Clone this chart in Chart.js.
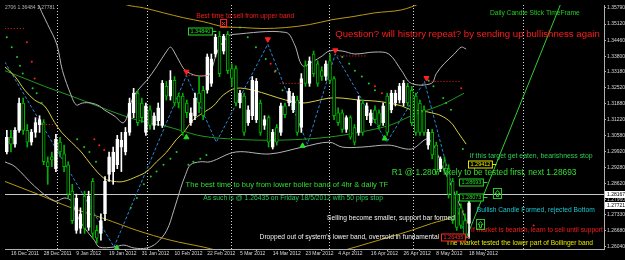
<!DOCTYPE html>
<html><head><meta charset="utf-8"><title>EURUSD Daily</title>
<script src="https://cdn.jsdelivr.net/npm/chart.js@4.4.1/dist/chart.umd.min.js"></script>
<style>html,body{margin:0;padding:0;background:#000;overflow:hidden}canvas{display:block}</style>
</head><body>
<canvas id="chart" width="625" height="260"></canvas>
<script>
// ---------- DATA ----------
const FIRST_BAR = -1; // bar index of first candle (16 Dec 2011 = 0)
const openPrices = [1.2990,1.3050,1.3022,1.3078,1.3190,1.3078,1.3030,1.3070,1.3102,1.3110,1.2950,1.2970,1.2922,1.3030,1.2982,1.2938,1.2830,1.2670,1.2678,1.2810,1.2682,1.2870,1.2670,1.2658,1.2738,1.2898,1.2910,1.2938,1.3010,1.2990,1.3070,1.3150,1.3230,1.3190,1.3070,1.3162,1.3098,1.3118,1.3098,1.3258,1.3218,1.3282,1.3218,1.3218,1.3190,1.3110,1.3138,1.3230,1.3242,1.3242,1.3270,1.3390,1.3462,1.3402,1.3470,1.3330,1.3330,1.3190,1.3218,1.3110,1.3138,1.3122,1.3190,1.3098,1.3130,1.3010,1.3090,1.3070,1.3178,1.3190,1.3162,1.3202,1.3090,1.3342,1.3270,1.3390,1.3350,1.3322,1.3298,1.3362,1.3290,1.3150,1.3150,1.3082,1.3130,1.3090,1.3070,1.3190,1.3138,1.3110,1.3162,1.3150,1.3110,1.3218,1.3162,1.3190,1.3202,1.3190,1.3258,1.3242,1.3218,1.3190,1.3162,1.3018,1.3070,1.3018,1.2922,1.2950,1.2922,1.2870,1.2818,1.2762,1.2710,1.2698];
const highPrices = [1.3078,1.3078,1.3090,1.3210,1.3210,1.3102,1.3082,1.3130,1.3138,1.3122,1.2970,1.2990,1.3062,1.3050,1.3018,1.2950,1.2858,1.2818,1.2762,1.2830,1.2830,1.2882,1.2690,1.2738,1.2890,1.2990,1.3010,1.3058,1.3070,1.3090,1.3210,1.3250,1.3242,1.3210,1.3190,1.3178,1.3150,1.3190,1.3282,1.3278,1.3322,1.3298,1.3230,1.3230,1.3202,1.3170,1.3230,1.3298,1.3258,1.3390,1.3390,1.3470,1.3482,1.3470,1.3482,1.3350,1.3342,1.3242,1.3230,1.3178,1.3298,1.3290,1.3202,1.3138,1.3138,1.3082,1.3102,1.3190,1.3190,1.3250,1.3230,1.3218,1.3310,1.3362,1.3378,1.3402,1.3362,1.3338,1.3362,1.3390,1.3298,1.3170,1.3162,1.3138,1.3138,1.3102,1.3218,1.3202,1.3190,1.3162,1.3178,1.3162,1.3190,1.3230,1.3242,1.3242,1.3270,1.3282,1.3270,1.3258,1.3230,1.3202,1.3178,1.3082,1.3082,1.3030,1.2970,1.2970,1.2938,1.2882,1.2830,1.2778,1.2738,1.2790];
const lowPrices = [1.2982,1.2990,1.3010,1.3070,1.3062,1.3010,1.3018,1.3050,1.3070,1.2938,1.2858,1.2930,1.2910,1.2970,1.2910,1.2802,1.2698,1.2658,1.2658,1.2658,1.2670,1.2638,1.2618,1.2630,1.2710,1.2870,1.2858,1.2922,1.2910,1.2978,1.3058,1.3130,1.3098,1.3110,1.3058,1.3082,1.3082,1.3098,1.3090,1.3202,1.3202,1.3178,1.3170,1.3058,1.3130,1.3098,1.3122,1.3150,1.3122,1.3230,1.3258,1.3378,1.3298,1.3390,1.3310,1.3258,1.3178,1.3170,1.3058,1.3098,1.3122,1.3110,1.3058,1.3082,1.3010,1.3002,1.3018,1.3058,1.3130,1.3178,1.3150,1.3058,1.3070,1.3258,1.3258,1.3298,1.3258,1.3282,1.3282,1.3270,1.3122,1.3098,1.3070,1.3070,1.3042,1.3018,1.3058,1.3058,1.3122,1.3098,1.3110,1.3082,1.3098,1.3058,1.3150,1.3178,1.3190,1.3178,1.3178,1.3098,1.3058,1.3058,1.3058,1.3002,1.2962,1.2898,1.2910,1.2910,1.2802,1.2698,1.2670,1.2678,1.2638,1.2638];
const closePrices = [1.3050,1.3022,1.3078,1.3190,1.3078,1.3030,1.3070,1.3110,1.3122,1.2950,1.2930,1.2958,1.3042,1.2990,1.2930,1.2818,1.2710,1.2802,1.2738,1.2678,1.2810,1.2658,1.2638,1.2710,1.2870,1.2970,1.2990,1.3042,1.3038,1.3070,1.3190,1.3230,1.3110,1.3130,1.3178,1.3098,1.3138,1.3170,1.3270,1.3218,1.3282,1.3190,1.3190,1.3070,1.3150,1.3150,1.3210,1.3190,1.3138,1.3378,1.3370,1.3458,1.3310,1.3462,1.3322,1.3290,1.3190,1.3230,1.3070,1.3162,1.3282,1.3278,1.3070,1.3122,1.3030,1.3070,1.3030,1.3178,1.3142,1.3238,1.3218,1.3070,1.3290,1.3270,1.3362,1.3310,1.3270,1.3298,1.3350,1.3282,1.3138,1.3110,1.3082,1.3130,1.3050,1.3030,1.3202,1.3070,1.3178,1.3150,1.3122,1.3098,1.3178,1.3070,1.3230,1.3230,1.3258,1.3270,1.3190,1.3110,1.3070,1.3070,1.3070,1.3070,1.2978,1.2910,1.2962,1.2922,1.2818,1.2710,1.2682,1.2690,1.2650,1.2782];

const dateTickBars = [0,8,16,24,32,40,48,56,64,72,80,88,96,104,112];
const dateTickLabels = ['16 Dec 2011','28 Dec 2011','9 Jan 2012','19 Jan 2012','31 Jan 2012','10 Feb 2012','22 Feb 2012','5 Mar 2012','14 Mar 2012','23 Mar 2012','4 Apr 2012','16 Apr 2012','26 Apr 2012','8 May 2012','18 May 2012'];
const priceTickValues = [1.3579,1.3512,1.3446,1.3380,1.3318,1.3252,1.3188,1.3122,1.3058,1.2992,1.2928,1.2862,1.2796,1.2733,1.2668,1.2604];

const upperBand = [{x:5.3,y:1.3650},{x:7.0,y:1.3582},{x:7.5,y:1.3562},{x:9.0,y:1.3510},{x:11.2,y:1.3430},{x:12.6,y:1.3322},{x:14.8,y:1.3218},{x:16.0,y:1.3182},{x:17.5,y:1.3190},{x:19.6,y:1.3190},{x:21.6,y:1.3178},{x:22.8,y:1.3162},{x:25.2,y:1.3138},{x:27.6,y:1.3110},{x:29.6,y:1.3202},{x:30.8,y:1.3238},{x:33.2,y:1.3282},{x:35.6,y:1.3338},{x:38.1,y:1.3402},{x:39.0,y:1.3418},{x:39.8,y:1.3402},{x:41.5,y:1.3350},{x:42.7,y:1.3322},{x:45.3,y:1.3302},{x:47.8,y:1.3302},{x:48.7,y:1.3310},{x:50.7,y:1.3410},{x:53.1,y:1.3462},{x:54.3,y:1.3470},{x:67.2,y:1.3478},{x:69.3,y:1.3430},{x:71.3,y:1.3342},{x:73.7,y:1.3358},{x:76.1,y:1.3382},{x:77.8,y:1.3402},{x:81.0,y:1.3402},{x:84.1,y:1.3390},{x:89.0,y:1.3398},{x:92.4,y:1.3390},{x:95.5,y:1.3322},{x:97.9,y:1.3270},{x:102.8,y:1.3270},{x:104.0,y:1.3310},{x:105.9,y:1.3350},{x:108.4,y:1.3390},{x:110.1,y:1.3418},{x:111.3,y:1.3410}];
const lowerBand = [{x:-1.5,y:1.2950},{x:1.0,y:1.2930},{x:5.8,y:1.2850},{x:10.7,y:1.2790},{x:13.1,y:1.2802},{x:14.8,y:1.2790},{x:16.0,y:1.2738},{x:17.9,y:1.2682},{x:20.4,y:1.2630},{x:21.6,y:1.2602},{x:25.2,y:1.2602},{x:27.6,y:1.2610},{x:30.1,y:1.2598},{x:33.2,y:1.2598},{x:35.6,y:1.2618},{x:38.1,y:1.2670},{x:39.8,y:1.2750},{x:41.5,y:1.2842},{x:42.7,y:1.2898},{x:43.9,y:1.2938},{x:46.3,y:1.2950},{x:48.7,y:1.2950},{x:55.0,y:1.2990},{x:63.3,y:1.2982},{x:71.3,y:1.3010},{x:77.8,y:1.3030},{x:81.0,y:1.3010},{x:85.8,y:1.3010},{x:92.4,y:1.3018},{x:97.9,y:1.3002},{x:102.1,y:1.3042},{x:105.7,y:1.2922},{x:108.8,y:1.2810},{x:111.3,y:1.2710}];
const middleBand = [{x:-1.5,y:1.3338},{x:1.0,y:1.3298},{x:3.4,y:1.3242},{x:5.8,y:1.3202},{x:8.2,y:1.3178},{x:10.7,y:1.3110},{x:12.4,y:1.3070},{x:14.8,y:1.3030},{x:17.2,y:1.2990},{x:19.6,y:1.2938},{x:22.8,y:1.2882},{x:25.2,y:1.2870},{x:27.6,y:1.2870},{x:30.8,y:1.2890},{x:33.2,y:1.2910},{x:35.6,y:1.2950},{x:38.1,y:1.2990},{x:40.5,y:1.3042},{x:42.2,y:1.3070},{x:44.6,y:1.3122},{x:47.0,y:1.3150},{x:49.5,y:1.3178},{x:51.9,y:1.3222},{x:55.0,y:1.3250},{x:59.2,y:1.3242},{x:63.3,y:1.3222},{x:67.2,y:1.3202},{x:71.3,y:1.3190},{x:74.4,y:1.3198},{x:77.8,y:1.3210},{x:81.0,y:1.3210},{x:85.1,y:1.3202},{x:89.0,y:1.3198},{x:92.4,y:1.3190},{x:95.5,y:1.3178},{x:97.9,y:1.3162},{x:100.4,y:1.3158},{x:102.8,y:1.3150},{x:105.2,y:1.3138},{x:107.6,y:1.3110},{x:109.3,y:1.3070},{x:111.3,y:1.3022}];
const outerUpper = [{x:22.8,y:1.3622},{x:28.4,y:1.3590},{x:32.5,y:1.3578},{x:37.3,y:1.3558},{x:42.2,y:1.3538},{x:47.0,y:1.3522},{x:51.9,y:1.3502},{x:56.7,y:1.3498},{x:61.6,y:1.3494},{x:67.2,y:1.3498},{x:73.0,y:1.3510},{x:78.5,y:1.3530},{x:83.4,y:1.3542},{x:89.0,y:1.3558},{x:95.5,y:1.3570},{x:100.4,y:1.3598}];
const outerLower = [{x:-1.5,y:1.2870},{x:6.5,y:1.2818},{x:14.8,y:1.2762},{x:22.8,y:1.2718},{x:30.8,y:1.2670},{x:39.0,y:1.2630},{x:47.0,y:1.2602},{x:54.3,y:1.2574},{x:66.4,y:1.2550},{x:76.1,y:1.2566},{x:81.7,y:1.2590},{x:87.5,y:1.2618},{x:92.4,y:1.2642},{x:97.9,y:1.2670},{x:102.8,y:1.2698},{x:107.6,y:1.2722},{x:110.8,y:1.2750}];
const slowAverage = [{x:-1.5,y:1.3322},{x:3.4,y:1.3290},{x:8.2,y:1.3258},{x:14.8,y:1.3218},{x:21.1,y:1.3178},{x:27.6,y:1.3138},{x:33.2,y:1.3110},{x:37.3,y:1.3098},{x:41.5,y:1.3078},{x:47.0,y:1.3054},{x:55.0,y:1.3042},{x:63.3,y:1.3038},{x:71.3,y:1.3042},{x:79.3,y:1.3054},{x:87.5,y:1.3078},{x:93.1,y:1.3102},{x:97.9,y:1.3138},{x:105.2,y:1.3182},{x:110.8,y:1.3230}];
const zigzagPoints = [{x:-1.5,y:1.3358},{x:25.2,y:1.2602},{x:42.9,y:1.3302},{x:50.2,y:1.3030},{x:62.8,y:1.3430},{x:72.5,y:1.3022},{x:79.3,y:1.3390},{x:91.9,y:1.3030},{x:101.1,y:1.3278},{x:111.3,y:1.2630}];
const trendLine = [{x:111.3,y:1.2638},{x:134.3,y:1.3590}];
const swingHighs = [{x:42.9,y:1.3318},{x:62.8,y:1.3450},{x:79.3,y:1.3405},{x:101.6,y:1.3292}];
const swingLows = [{x:25.9,y:1.2598},{x:42.9,y:1.3050},{x:71.3,y:1.3015},{x:91.4,y:1.3045}];
const resistanceLevels = [{from:-1.5,to:3.4,price:1.3494},{from:7.8,to:11.4,price:1.3102},{from:42.7,to:48.2,price:1.3302},{from:65.7,to:71.3,price:1.3270},{from:79.8,to:87.0,price:1.3382},{from:102.1,to:110.1,price:1.3278}];
const sarGreen = [{x:-1.0,y:1.3458},{x:0.2,y:1.3418},{x:1.5,y:1.3378},{x:2.2,y:1.3342},{x:2.9,y:1.3310},{x:5.3,y:1.3250},{x:6.3,y:1.3230},{x:7.5,y:1.3190},{x:16.2,y:1.3042},{x:17.9,y:1.3010},{x:19.2,y:1.2990},{x:20.8,y:1.2950},{x:29.3,y:1.2762},{x:30.8,y:1.2802},{x:32.5,y:1.2858},{x:34.2,y:1.2890},{x:35.6,y:1.2910},{x:37.3,y:1.2938},{x:39.0,y:1.2962},{x:40.5,y:1.2990},{x:43.4,y:1.2938},{x:44.6,y:1.2950},{x:46.3,y:1.2962},{x:47.8,y:1.2978},{x:56.0,y:1.3498},{x:57.9,y:1.3458},{x:59.9,y:1.3418},{x:62.3,y:1.3370},{x:64.7,y:1.3322},{x:66.4,y:1.3242},{x:81.0,y:1.3378},{x:82.7,y:1.3350},{x:84.1,y:1.3322},{x:85.8,y:1.3298},{x:87.5,y:1.3270},{x:89.0,y:1.3242},{x:102.1,y:1.3282},{x:103.3,y:1.3258},{x:105.7,y:1.3210},{x:106.4,y:1.3190},{x:107.6,y:1.3162},{x:110.5,y:1.3002}];
const sarRed = [{x:3.9,y:1.3438},{x:5.1,y:1.3358},{x:5.8,y:1.3290},{x:20.4,y:1.3042},{x:21.6,y:1.3018},{x:22.8,y:1.2998},{x:63.5,y:1.3350},{x:64.5,y:1.3318},{x:89.0,y:1.3258},{x:90.7,y:1.3230},{x:110.1,y:1.3250},{x:127.8,y:1.2690}];
const monthSeparators = [11.15, 33.2, 53.8, 77.8, 98.4, 125.3];
const bidPrice = 1.28167;
const askPrice = 1.27721;

const notes = [
  {text:'2706 1.36484 1.27781', bar:-1.45, price:1.3578, color:'#b0b0b0', width:50},
  {text:'Best time to sell from upper band', bar:45.3, price:1.3546, color:'#ff1a1a', width:98},
  {text:'Question? will history repeat? by sending up bullishness again', bar:79.3, price:1.3470, color:'#ff1a1a', width:265},
  {text:'Daily Candle Stick TimeFrame', bar:117.1, price:1.3558, color:'#22cc22', width:90},
  {text:'If this target get eaten, bearishness stop', bar:112.2, price:1.2974, color:'#2ecc55', width:123},
  {text:'R1 @ 1.2807 likely to be tested first, next 1.28693', bar:93.1, price:1.2906, color:'#33dd33', width:185},
  {text:'The best time to buy from lower boller band of 4hr & daily TF', bar:42.7, price:1.2854, color:'#33dd33', width:203},
  {text:'As such is @ 1.26435 on Friday 18/5/2012 with 50 pips stop', bar:47.0, price:1.2802, color:'#22cc55', width:180},
  {text:'Selling become smaller, support bar formed', bar:77.3, price:1.2718, color:'#f0f0f0', width:128},
  {text:"Dropped out of system's lower band, oversold in fundamental", bar:60.8, price:1.2642, color:'#f0f0f0', width:180},
  {text:'Bullish Candle Formed, rejected Bottom', bar:113.9, price:1.2754, color:'#19c8d0', width:118},
  {text:'If market is bearish, learn to sell until support', bar:112.5, price:1.2670, color:'#ff1a1a', width:132},
  {text:'The Market tested the lower part of Boilinger band', bar:106.4, price:1.2618, color:'#e6e600', width:147}
];
const priceTags = [
  {text:'1.34840', bar:43.4, price:1.3484, color:'#22dd22'},
  {text:'1.29412', bar:111.8, price:1.2941, color:'#e6e600'},
  {text:'1.28693', bar:109.6, price:1.28693, color:'#22dd22'},
  {text:'1.28073', bar:109.6, price:1.2807, color:'#22dd22'},
  {text:'1.26435', bar:105.2, price:1.26435, color:'#ff2a2a'}
];
const arrowBoxes = [{bar:118.8, price:1.2822},{bar:114.7, price:1.2698}];
const crossBox = {bar:51.9, price:1.3518};

// ---------- BUILD ----------
const FONT = 'Arial, "Liberation Sans", sans-serif';
const bars = openPrices.map((_, k) => FIRST_BAR + k);
const bull = closePrices.map((c, k) => c >= openPrices[k]);
const bodies = bars.map((b, k) => ({x:b, y:[Math.min(openPrices[k], closePrices[k]), Math.max(openPrices[k], closePrices[k])]}));
const wicks = bars.map((b, k) => ({x:b, y:[lowPrices[k], highPrices[k]]}));
const BULL = '#ffffff', BEAR = '#00b400';
const resistanceData = [];
resistanceLevels.forEach(r => { resistanceData.push({x:r.from, y:r.price}, {x:r.to, y:r.price}, {x:r.to + 0.01, y:null}); });

const lineDs = (data, color, extra) => Object.assign({type:'line', data, borderColor:color, borderWidth:1, pointRadius:0, tension:0.35, fill:false, order:5}, extra || {});
const dotDs = (data, color) => ({type:'line', data, showLine:false, pointRadius:1, pointBorderWidth:0, pointBackgroundColor:color, order:0});

const overlay = {
  id:'overlay',
  beforeDatasetsDraw(chart) {
    const {ctx, chartArea:a, scales:{x, y}} = chart;
    ctx.save();
    ctx.lineWidth = 1; ctx.strokeStyle = '#d8d8d8'; ctx.setLineDash([1,2]);
    monthSeparators.forEach(v => {
      const px = Math.round(x.getPixelForValue(v)) + 0.5;
      ctx.beginPath(); ctx.moveTo(px, a.top); ctx.lineTo(px, a.bottom); ctx.stroke();
    });
    ctx.setLineDash([]); ctx.strokeStyle = '#c8c8c8';
    const py = Math.round(y.getPixelForValue(bidPrice)) + 0.5;
    ctx.beginPath(); ctx.moveTo(a.left, py); ctx.lineTo(a.right, py); ctx.stroke();
    ctx.restore();
  },
  afterDatasetsDraw(chart) {
    const {ctx, scales:{x, y}} = chart;
    ctx.save();
    ctx.textAlign = 'left'; ctx.textBaseline = 'middle';
    notes.forEach(n => {
      ctx.font = '10px ' + FONT;
      const w = ctx.measureText(n.text).width;
      const size = 10 * n.width / w;
      ctx.font = size.toFixed(2) + 'px ' + FONT;
      ctx.fillStyle = n.color;
      ctx.fillText(n.text, x.getPixelForValue(n.bar), y.getPixelForValue(n.price));
    });
    priceTags.forEach(t => {
      const px = Math.round(x.getPixelForValue(t.bar)) + 0.5, py = Math.round(y.getPixelForValue(t.price)) + 0.5;
      ctx.font = '5.5px ' + FONT;
      const w = ctx.measureText(t.text).width + 4;
      ctx.fillStyle = '#000'; ctx.fillRect(px, py - 3.5, w, 7);
      ctx.strokeStyle = t.color; ctx.lineWidth = 1; ctx.strokeRect(px, py - 3.5, w, 7);
      ctx.fillStyle = t.color; ctx.fillText(t.text, px + 2, py + 0.3);
      ctx.beginPath(); ctx.moveTo(px + w, py); ctx.lineTo(px + w + 4, py); ctx.stroke();
    });
    arrowBoxes.forEach(b => {
      const px = Math.round(x.getPixelForValue(b.bar)) + 0.5, py = Math.round(y.getPixelForValue(b.price)) + 0.5;
      ctx.strokeStyle = '#22cc22'; ctx.lineWidth = 1;
      ctx.strokeRect(px - 4, py - 5, 8, 10);
      ctx.beginPath(); ctx.moveTo(px, py - 3); ctx.lineTo(px - 2.5, py); ctx.lineTo(px - 1, py); ctx.lineTo(px - 1, py + 3); ctx.lineTo(px + 1, py + 3); ctx.lineTo(px + 1, py); ctx.lineTo(px + 2.5, py); ctx.closePath(); ctx.stroke();
    });
    {
      const px = Math.round(x.getPixelForValue(crossBox.bar)) + 0.5, py = Math.round(y.getPixelForValue(crossBox.price)) + 0.5;
      ctx.strokeStyle = '#ff2020'; ctx.strokeRect(px - 3, py - 4, 6, 8);
      ctx.beginPath(); ctx.moveTo(px - 1.5, py - 1.5); ctx.lineTo(px + 1.5, py + 1.5); ctx.moveTo(px + 1.5, py - 1.5); ctx.lineTo(px - 1.5, py + 1.5); ctx.stroke();
    }
    ctx.restore();
  },
  afterDraw(chart) {
    const {ctx, chartArea:a, scales:{y}} = chart;
    ctx.save();
    ctx.font = '5px ' + FONT; ctx.textBaseline = 'middle'; ctx.textAlign = 'left';
    [bidPrice, askPrice].forEach(p => {
      const py = Math.round(y.getPixelForValue(p));
      ctx.fillStyle = '#ffffff'; ctx.fillRect(a.right + 1, py - 3, 20, 7);
      ctx.fillStyle = '#000000'; ctx.fillText(p.toFixed(5), a.right + 3, py + 0.5);
    });
    ctx.restore();
  }
};

new Chart(document.getElementById('chart'), {
  type:'bar',
  data:{
    datasets:[
      {type:'bar', data:bodies, backgroundColor:bull.map(u => u ? BULL : '#000000'), borderColor:bull.map(u => u ? BULL : BEAR), borderWidth:1, borderSkipped:false, barThickness:3, grouped:false, order:1},
      {type:'bar', data:wicks, backgroundColor:bull.map(u => u ? BULL : BEAR), borderWidth:0, barThickness:1, grouped:false, order:2},
      lineDs(upperBand, '#b4b4b4'),
      lineDs(lowerBand, '#b4b4b4'),
      lineDs(middleBand, '#d8d040'),
      lineDs(outerUpper, '#b89a10'),
      lineDs(outerLower, '#b89a10'),
      lineDs(slowAverage, '#1f9a1f'),
      lineDs(zigzagPoints, '#2b86d6', {tension:0, borderDash:[3,2]}),
      lineDs(trendLine, '#33cc33', {tension:0}),
      lineDs(resistanceData, '#ff2020', {tension:0, borderDash:[1,2], spanGaps:false, order:0}),
      dotDs(sarGreen, '#22cc22'),
      dotDs(sarRed, '#ff2020'),
      {type:'line', data:swingHighs, showLine:false, pointStyle:'triangle', rotation:180, pointRadius:3, pointBackgroundColor:'#ff2020', pointBorderColor:'#ff2020', order:0},
      {type:'line', data:swingLows, showLine:false, pointStyle:'triangle', pointRadius:3, pointBackgroundColor:'#22dd22', pointBorderColor:'#22dd22', order:0}
    ]
  },
  options:{
    responsive:false, animation:false, devicePixelRatio:1, events:[],
    layout:{padding:0},
    plugins:{legend:{display:false}, tooltip:{enabled:false}},
    scales:{
      x:{
        type:'linear', min:-1.45, max:145, offset:false,
        afterBuildTicks:s => { s.ticks = dateTickBars.map(v => ({value:v})); },
        ticks:{autoSkip:false, maxRotation:0, minRotation:0, align:'start', padding:0, color:'#d8d8d8', font:{size:5, family:FONT},
          callback:v => dateTickLabels[dateTickBars.indexOf(v)]},
        grid:{drawOnChartArea:false, tickLength:2, color:'#b0b0b0'},
        border:{color:'#b0b0b0'},
        afterFit:s => { s.height = 11; s.paddingLeft = 0; s.paddingRight = 0; }
      },
      y:{
        position:'right', min:1.2594, max:1.3590,
        afterBuildTicks:s => { s.ticks = priceTickValues.map(v => ({value:v})); },
        ticks:{autoSkip:false, padding:1, color:'#d8d8d8', font:{size:5, family:FONT}, callback:v => v.toFixed(5)},
        grid:{drawOnChartArea:false, tickLength:2, color:'#b0b0b0'},
        border:{color:'#b0b0b0'},
        afterFit:s => { s.width = 21; s.paddingTop = 0; s.paddingBottom = 0; }
      }
    }
  },
  plugins:[overlay]
});
</script>
</body></html>
